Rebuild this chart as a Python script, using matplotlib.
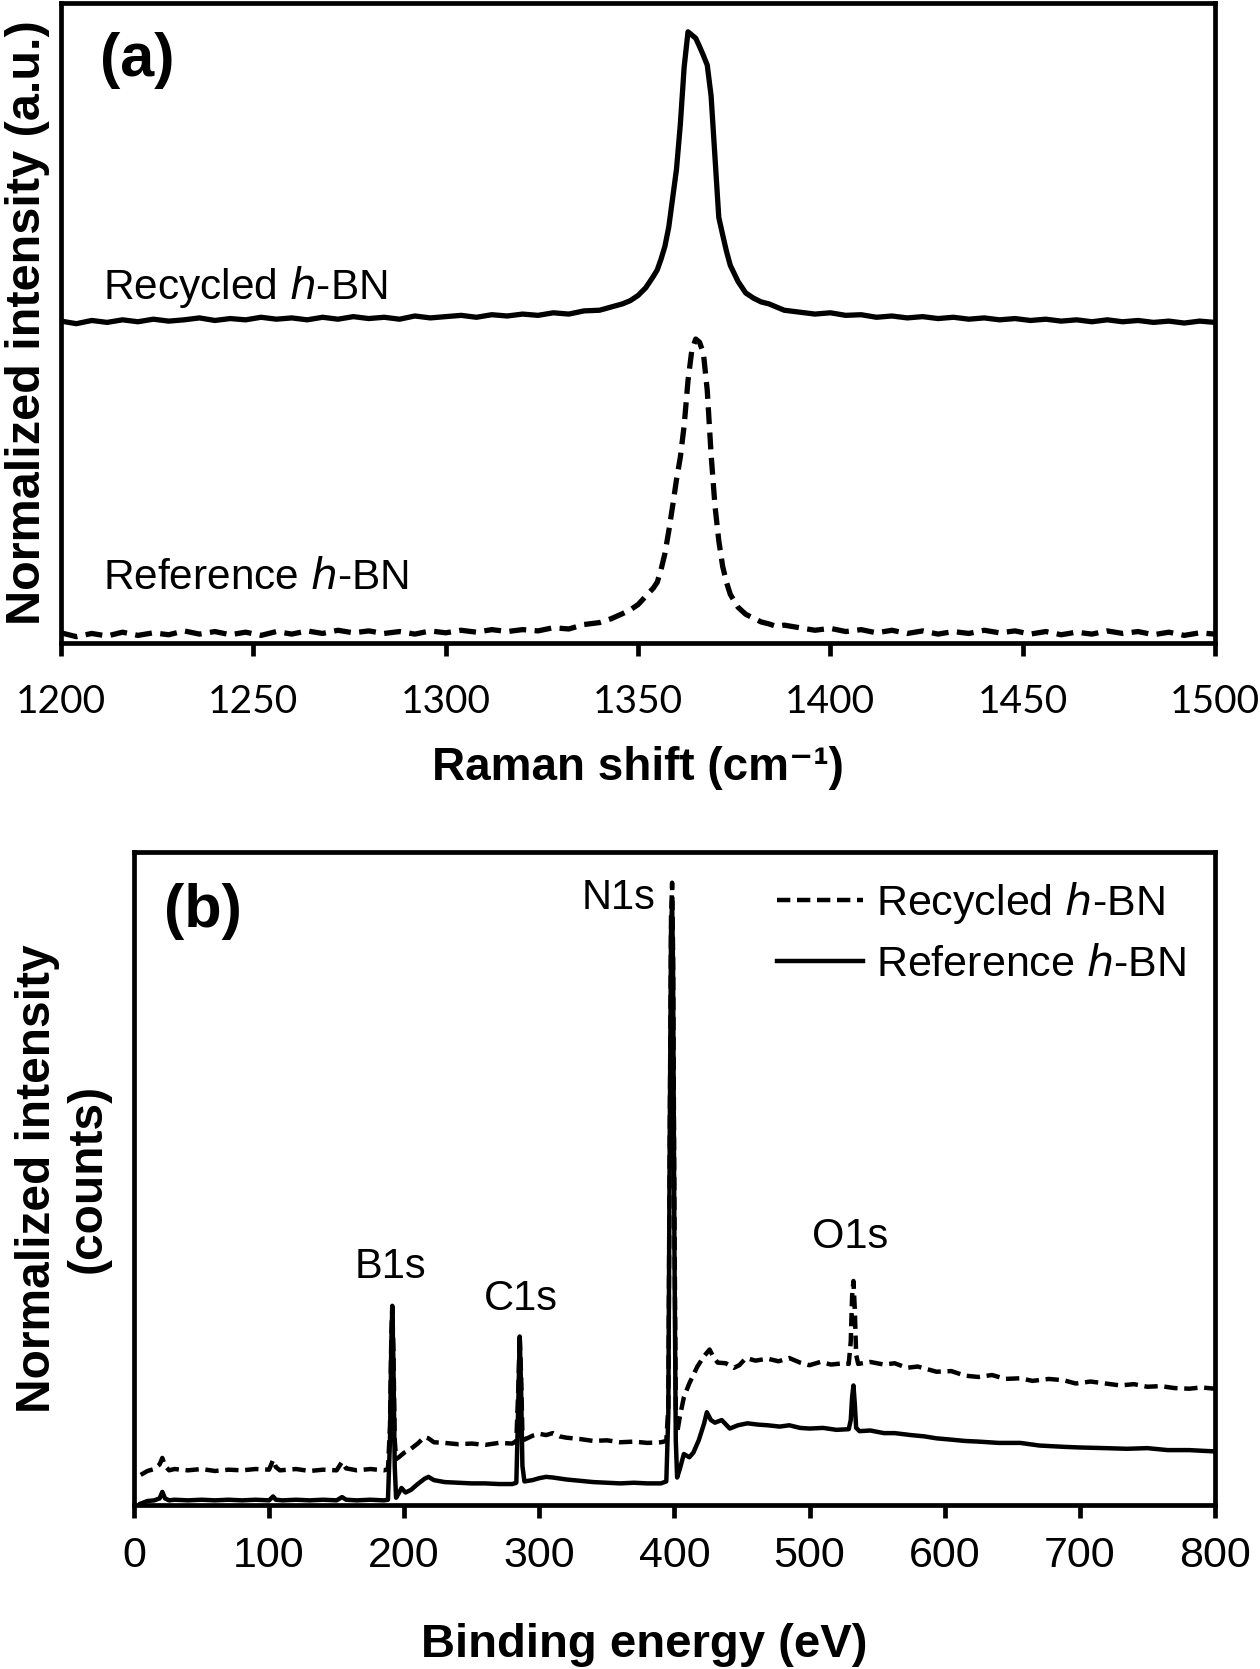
import numpy as np
import matplotlib.pyplot as plt

# ---------------- (a) Raman spectra, normalized units (axis bottom = 0, top = 100)
raman_x = [1200, 1204, 1208, 1212, 1216, 1220, 1224, 1228, 1232, 1236, 1240, 1244, 1248,
           1252, 1256, 1260, 1264, 1268, 1272, 1276, 1280, 1284, 1288, 1292, 1296, 1300,
           1304, 1308, 1312, 1316, 1320, 1324, 1328, 1332, 1336, 1340, 1343, 1346, 1348,
           1350, 1352, 1354, 1355, 1356, 1357, 1358, 1359, 1360, 1361, 1362, 1363, 1364,
           1365, 1366, 1367, 1368, 1369, 1370, 1371, 1372, 1373, 1374, 1376, 1378, 1380,
           1382, 1384, 1386, 1388, 1392, 1396, 1400, 1404, 1408, 1412, 1416, 1420, 1424,
           1428, 1432, 1436, 1440, 1444, 1448, 1452, 1456, 1460, 1464, 1468, 1472, 1476,
           1480, 1484, 1488, 1492, 1496, 1500]

raman_recycled = [50.3, 49.9, 50.4, 50.1, 50.5, 50.2, 50.6, 50.3, 50.5, 50.8, 50.4, 50.7, 50.5,
                  50.9, 50.6, 50.8, 50.5, 50.9, 50.6, 51.0, 50.7, 50.9, 50.6, 51.1, 50.8, 51.0,
                  51.2, 50.9, 51.3, 51.1, 51.4, 51.2, 51.6, 51.4, 51.9, 52.0, 52.5, 53.0, 53.5,
                  54.3, 55.5, 57.3, 58.3, 60.0, 62.0, 65.0, 69.5, 74.0, 81.0, 90.0, 95.5, 95.0,
                  94.5, 93.2, 91.8, 90.3, 85.5, 76.0, 66.5, 63.8, 61.2, 59.0, 56.5, 54.7, 53.9,
                  53.3, 53.0, 52.5, 52.0, 51.7, 51.4, 51.6, 51.2, 51.3, 50.9, 51.1, 50.8, 51.0,
                  50.7, 50.9, 50.6, 50.8, 50.5, 50.7, 50.4, 50.6, 50.3, 50.5, 50.2, 50.5, 50.2,
                  50.4, 50.1, 50.3, 50.0, 50.3, 50.1]

raman_reference = [1.6, 1.0, 1.5, 1.1, 1.7, 1.2, 1.6, 1.3, 1.9, 1.4, 1.8, 1.3, 1.7,
                   1.2, 1.8, 1.4, 1.9, 1.5, 2.0, 1.6, 1.9, 1.5, 1.8, 1.4, 1.9, 1.6,
                   2.0, 1.7, 2.1, 1.8, 2.1, 1.9, 2.4, 2.2, 2.9, 3.2, 3.8, 4.6, 5.2,
                   6.0, 7.3, 8.6, 9.5, 11.5, 14.0, 17.5, 21.4, 25.5, 29.0, 34.0, 41.0, 45.8,
                   47.5, 47.0, 45.3, 39.5, 29.5, 21.5, 16.0, 12.0, 9.5, 7.6, 5.6, 4.5, 3.9,
                   3.3, 3.0, 2.6, 2.8, 2.4, 2.0, 2.3, 1.8, 2.1, 1.6, 2.0, 1.5, 1.9,
                   1.4, 1.8, 1.5, 2.0, 1.6, 1.9, 1.4, 1.8, 1.3, 1.7, 1.4, 1.9, 1.5,
                   1.8, 1.3, 1.7, 1.2, 1.6, 1.4]

# ---------------- (b) XPS survey spectra, normalized units (axis bottom = 0, top = 100)
xps_x_rec = [5, 10, 15, 19, 21, 23, 26, 30, 40, 50, 60, 70, 80, 90, 100, 103, 105, 108, 120,
             130, 140, 150, 154, 157, 165, 175, 185, 188, 189.5, 190.5, 191.2, 192, 193, 194,
             196, 200, 205, 210, 215, 218, 222, 230, 240, 250, 260, 270, 280, 283, 284.5,
             285.5, 286.5, 287.5, 289, 295, 300, 305, 310, 315, 320, 330, 340, 350, 360, 370,
             380, 390, 394, 395.5, 396.5, 397.5, 398.3, 399, 400, 401, 402, 404, 407, 411, 417,
             422, 426, 429, 432, 438, 444, 448, 453, 460, 469, 477, 485, 493, 500, 508, 516,
             525, 529, 530.5, 531.5, 532.5, 533.5, 534.5, 536, 545, 555, 563, 572, 580, 594,
             605, 615, 625, 635, 645, 656, 665, 677, 688, 697, 708, 719, 730, 740, 750, 760,
             770, 781, 790, 800]
xps_recycled = [4.6, 5.2, 5.5, 6.2, 7.2, 6.0, 5.3, 5.5, 5.3, 5.5, 5.2, 5.4, 5.3, 5.5, 5.4, 6.9,
                5.8, 5.3, 5.5, 5.2, 5.4, 5.3, 6.6, 5.6, 5.3, 5.5, 5.3, 5.5, 12.0, 26.0, 30.5,
                24.0, 10.0, 7.0, 7.3, 8.0, 8.6, 9.4, 10.4, 10.2, 9.6, 9.5, 9.3, 9.4, 9.2, 9.5,
                9.4, 9.8, 18.0, 26.0, 20.0, 11.0, 10.0, 10.6, 10.9, 10.7, 11.0, 10.5, 10.3,
                10.1, 9.8, 9.9, 9.6, 9.7, 9.5, 9.6, 9.8, 15.0, 55.0, 90.0, 95.3, 85.0, 45.0,
                15.0, 11.0, 13.5, 16.5, 18.6, 21.2, 22.8, 23.8, 22.6, 21.8, 21.7, 21.0, 21.4,
                22.5, 22.1, 22.4, 22.0, 22.5, 21.8, 21.4, 21.9, 21.5, 21.7, 21.6, 25.0, 32.0,
                34.3, 30.0, 23.0, 21.6, 21.9, 21.5, 21.7, 21.0, 21.2, 20.4, 20.5, 19.8, 19.6,
                19.9, 19.3, 19.4, 19.0, 19.3, 19.1, 18.6, 18.9, 18.6, 18.3, 18.5, 18.1, 18.2,
                17.9, 17.8, 18.0, 17.8]

xps_x_ref = [5, 10, 15, 19, 21, 23, 26, 30, 40, 50, 60, 70, 80, 90, 100, 103, 105, 110, 120,
             130, 140, 150, 154, 157, 165, 175, 185, 188, 189.5, 190.5, 191.2, 192, 193, 194,
             196, 198, 201, 205, 210, 215, 218, 222, 230, 240, 250, 260, 270, 280, 283, 284.5,
             285.5, 286.5, 287.5, 289, 295, 300, 305, 310, 320, 330, 340, 350, 360, 370, 380,
             390, 394, 395.5, 396.5, 397.5, 398.3, 399, 400, 401, 402, 404, 407, 411, 414, 418,
             422, 424, 427, 430, 435, 441, 447, 454, 462, 469, 478, 485, 493, 500, 510, 520,
             529, 530.5, 531.5, 532.5, 533.5, 534.5, 537, 545, 555, 563, 575, 585, 594, 605,
             615, 625, 640, 656, 670, 688, 700, 719, 735, 750, 765, 781, 790, 800]
xps_reference = [0.2, 0.6, 0.7, 1.0, 2.0, 1.0, 0.7, 0.8, 0.7, 0.8, 0.7, 0.8, 0.7, 0.8, 0.7, 1.3,
                 0.8, 0.7, 0.8, 0.7, 0.8, 0.7, 1.2, 0.8, 0.7, 0.8, 0.7, 0.8, 10.0, 25.0, 30.3,
                 22.0, 6.0, 1.1, 1.8, 2.6, 1.9, 2.3, 3.2, 4.0, 4.3, 3.8, 3.5, 3.4, 3.3, 3.3,
                 3.2, 3.2, 3.4, 16.0, 25.8, 18.0, 6.0, 3.6, 3.8, 4.1, 4.3, 4.2, 3.9, 3.7, 3.5,
                 3.4, 3.3, 3.4, 3.3, 3.3, 3.6, 14.0, 55.0, 88.0, 92.5, 82.0, 40.0, 10.0, 4.2,
                 5.5, 7.8, 7.3, 8.0, 9.9, 12.5, 14.2, 13.0, 12.6, 13.0, 11.7, 12.2, 12.5, 12.3,
                 12.2, 12.0, 12.2, 11.8, 11.7, 11.8, 11.5, 11.6, 13.0, 16.5, 18.3, 15.5, 11.8,
                 11.3, 11.4, 11.0, 11.0, 10.7, 10.5, 10.2, 10.0, 9.8, 9.7, 9.5, 9.5, 9.1, 8.9,
                 8.8, 8.7, 8.6, 8.7, 8.4, 8.4, 8.3, 8.2]

peak_names = ['B1s', 'C1s', 'N1s', 'O1s']
peak_label_x = [190, 286, 359, 530]
peak_label_y = [36.5, 31.5, 93.0, 41.0]

raman_ticks = [1200, 1250, 1300, 1350, 1400, 1450, 1500]
xps_ticks = [0, 100, 200, 300, 400, 500, 600, 700, 800]

plt.rcParams['font.family'] = ['Liberation Sans', 'DejaVu Sans']
SPINE = 3.4

fig = plt.figure(figsize=(12.6, 16.69), dpi=100)

# ---------------- panel (a)
ax1 = fig.add_axes([0.0484, 0.6147, 0.9159, 0.3835])
ax1.plot(raman_x, raman_recycled, color='black', lw=3.8, solid_joinstyle='round')
ax1.plot(raman_x, raman_reference, color='black', lw=3.8, linestyle=(0, (3.2, 1.6)))
ax1.set_xlim(1200, 1500)
ax1.set_ylim(0, 100)
ax1.set_xticks(raman_ticks)
ax1.set_yticks([])
ax1.tick_params(axis='x', direction='out', length=9.5, width=SPINE, pad=20, labelsize=28)
for lab in ax1.get_xticklabels():
    lab.set_fontfamily('Lato')
ax1.text(1210.9, 55.6, 'Recycled $\\mathit{h}$-BN', fontsize=30.5, va='center', ha='left')
ax1.text(1210.9, 10.2, 'Reference $\\mathit{h}$-BN', fontsize=30.5, va='center', ha='left')
ax1.text(0.066, 0.91, '(a)', transform=ax1.transAxes, fontsize=44, fontweight='bold',
         ha='center', va='center')
ax1.set_xlabel('Raman shift (cm\u207b\u00b9)', fontsize=33, fontweight='bold', va='center')
ax1.xaxis.set_label_coords(0.5, -0.195)
ax1.set_ylabel('Normalized intensity (a.u.)', fontsize=35, fontweight='bold', va='center')
ax1.yaxis.set_label_coords(-0.029, 0.5)

# ---------------- panel (b)
ax2 = fig.add_axes([0.1063, 0.0983, 0.8579, 0.3912])
ax2.plot(xps_x_rec, xps_recycled, color='black', lw=3.2, linestyle=(0, (3.0, 1.5)),
         label='Recycled $\\mathit{h}$-BN')
ax2.plot(xps_x_ref, xps_reference, color='black', lw=3.2, label='Reference $\\mathit{h}$-BN')
ax2.set_xlim(0, 800)
ax2.set_ylim(0, 100)
ax2.set_xticks(xps_ticks)
ax2.set_yticks([])
ax2.tick_params(axis='x', direction='out', length=9.5, width=SPINE, pad=13, labelsize=31)
for name, lx, ly in zip(peak_names, peak_label_x, peak_label_y):
    ax2.text(lx, ly, name, fontsize=30, ha='center', va='center')
ax2.text(0.064, 0.909, '(b)', transform=ax2.transAxes, fontsize=44, fontweight='bold',
         ha='center', va='center')
ax2.legend(loc='upper left', bbox_to_anchor=(0.595, 0.957), frameon=False, fontsize=31,
           handlelength=2.0, handletextpad=0.3, labelspacing=0.45, borderpad=0,
           borderaxespad=0)
ax2.set_xlabel('Binding energy (eV)', fontsize=34, fontweight='bold', va='center')
ax2.xaxis.set_label_coords(0.472, -0.214)
ax2.set_ylabel('Normalized intensity\n(counts)', fontsize=34.5, fontweight='bold',
               va='center', linespacing=1.15)
ax2.yaxis.set_label_coords(-0.066, 0.5)

for ax in (ax1, ax2):
    for side in ax.spines.values():
        side.set_linewidth(SPINE)

fig.savefig('out.png', dpi=100)
